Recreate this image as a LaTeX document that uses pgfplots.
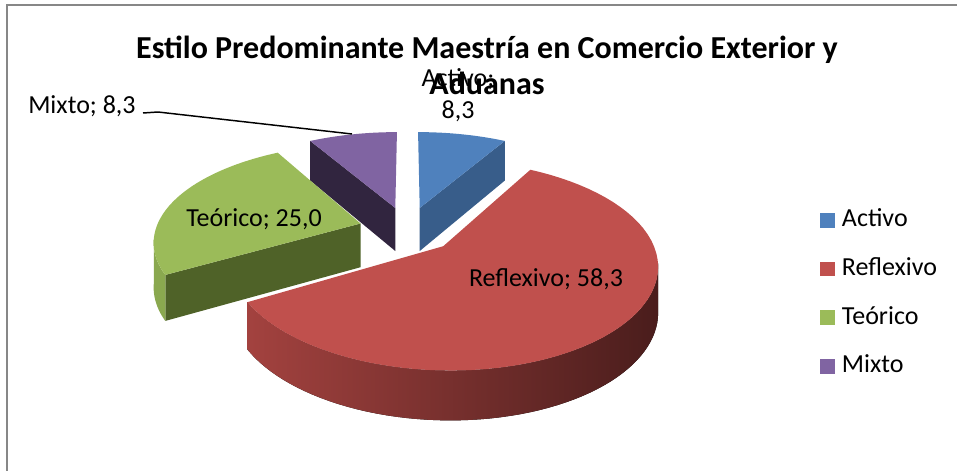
\documentclass[border=0pt]{standalone}
\usepackage{pgfplots}
\pgfplotsset{compat=1.18}
\usepackage{pgfplotstable}
\usepackage{fontspec}
\setmainfont{Carlito}

\definecolor{cA}{HTML}{4F81BD}
\definecolor{cAd}{HTML}{385D8A}
\definecolor{cB}{HTML}{C0504D}
\definecolor{cBl}{HTML}{A3423F}
\definecolor{cBr}{HTML}{4A1D1C}
\definecolor{cC}{HTML}{9BBB59}
\definecolor{cCd}{HTML}{4F6228}
\definecolor{cCs}{HTML}{8AA84F}
\definecolor{cD}{HTML}{8064A2}
\definecolor{cDd}{HTML}{31253F}
\definecolor{frame}{HTML}{878787}

\pgfplotstableread{
estilo valor
Activo 8.3
Reflexivo 58.3
Teorico 25.0
Mixto 8.3
}\datos

\pgfplotstablegetelem{0}{valor}\of\datos\edef\vA{\pgfplotsretval}
\pgfplotstablegetelem{1}{valor}\of\datos\edef\vB{\pgfplotsretval}
\pgfplotstablegetelem{2}{valor}\of\datos\edef\vC{\pgfplotsretval}
\pgfplotstablegetelem{3}{valor}\of\datos\edef\vD{\pgfplotsretval}
\pgfmathsetmacro\tot{\vA+\vB+\vC+\vD}
\pgfmathsetmacro\aB{\vA/\tot*360}
\pgfmathsetmacro\aC{\aB+\vB/\tot*360}
\pgfmathsetmacro\aD{\aC+\vC/\tot*360}
\def\ex{0.24}
\pgfmathsetmacro\ouA{\ex*sin(\aB/2)}\pgfmathsetmacro\ovA{\ex*cos(\aB/2)}
\pgfmathsetmacro\ouB{\ex*sin((\aB+\aC)/2)}\pgfmathsetmacro\ovB{\ex*cos((\aB+\aC)/2)}
\pgfmathsetmacro\ouC{\ex*sin((\aC+\aD)/2)}\pgfmathsetmacro\ovC{\ex*cos((\aC+\aD)/2)}
\pgfmathsetmacro\ouD{\ex*sin((\aD+360)/2)}\pgfmathsetmacro\ovD{\ex*cos((\aD+360)/2)}

\newcommand\topface[5]{%
 \fill[#1] ({PX(#2,#3)},{PY(#2,#3)}) -- plot[variable=\t,domain=#4:#5,samples=60]
   ({PX(#2+sin(\t),#3+cos(\t))},{PY(#2+sin(\t),#3+cos(\t))}) -- cycle;}
\newcommand\cutface[4]{%
 \fill[#1] ({PX(#2,#3)},{PY(#2,#3)})
   -- ({PX(#2+sin(#4),#3+cos(#4))},{PY(#2+sin(#4),#3+cos(#4))})
   -- ({PX(#2+sin(#4),#3+cos(#4))},{PB(#2+sin(#4),#3+cos(#4))})
   -- ({PX(#2,#3)},{PB(#2,#3)}) -- cycle;}
\newcommand\rimside[5]{%
 \fill[#1] plot[variable=\t,domain=#4:#5,samples=60]
   ({PX(#2+sin(\t),#3+cos(\t))},{PY(#2+sin(\t),#3+cos(\t))})
   -- plot[variable=\t,domain=#5:#4,samples=60]
   ({PX(#2+sin(\t),#3+cos(\t))},{PB(#2+sin(\t),#3+cos(\t))}) -- cycle;}

\begin{document}
\begin{tikzpicture}[declare function={
  PX(\u,\v)=407.5+204.8*(\u)/(1+0.164*(\v));
  PY(\u,\v)=229.4-96*(\v)/(1+0.175*(\v));
  PB(\u,\v)=229.4-96*(\v)/(1+0.175*(\v))+44/(1+0.1*(\v));
}]
\begin{axis}[
  scale only axis, width=717.75pt, height=353.25pt,
  xmin=0, xmax=957, ymin=0, ymax=471, y dir=reverse,
  hide axis, clip=false,
  legend image code/.code={\fill[#1] (0pt,-5.6pt) rectangle (11.25pt,5.6pt); \path (16.5pt,0pt);},
  legend cell align=left,
  legend style={at={(axis description cs:0.8568,0.5577)}, anchor=north west,
    draw=none, fill=none, inner sep=0pt, outer sep=0pt,
    font=\fontsize{19.5}{23}\selectfont, row sep=18.5pt,
    nodes={inner sep=0pt, text height=14pt, text depth=4pt}},
]
\coordinate (tl) at (axis cs:0,0);
\coordinate (br) at (axis cs:957,471);
\addlegendimage{fill=cA, draw=none}\addlegendentry{Activo}
\addlegendimage{fill=cB, draw=none}\addlegendentry{Reflexivo}
\addlegendimage{fill=cC, draw=none}\addlegendentry{Teórico}
\addlegendimage{fill=cD, draw=none}\addlegendentry{Mixto}

\draw[frame, line width=1.1pt] (axis cs:7,471) -- (axis cs:7,5) -- (axis cs:957,5);

% Mixto
\cutface{cDd}{\ouD}{\ovD}{\aD}
\topface{cD}{\ouD}{\ovD}{\aD}{360}
% Activo
\cutface{cAd}{\ouA}{\ovA}{\aB}
\topface{cA}{\ouA}{\ovA}{0}{\aB}
% Teorico
\cutface{cCd}{\ouC}{\ovC}{\aC}
\rimside{cCs}{\ouC}{\ovC}{\aC}{260.6}
\topface{cC}{\ouC}{\ovC}{\aC}{\aD}
% Reflexivo
\rimside{left color=cBl, right color=cBr}{\ouB}{\ovB}{99.4}{\aC}
\topface{cB}{\ouB}{\ovB}{\aB}{\aC}

% title
\node[anchor=base, inner sep=0pt, font=\fontsize{24}{28}\selectfont\bfseries] at (axis cs:487,58) {Estilo Predominante Maestría en Comercio Exterior y};
\node[anchor=base, inner sep=0pt, font=\fontsize{24}{28}\selectfont\bfseries] at (axis cs:487,94) {Aduanas};

% data labels
\tikzset{lab/.style={inner sep=0pt, font=\fontsize{19.5}{23}\selectfont}}
\node[lab, anchor=base] at (axis cs:458,86) {Activo;};
\node[lab, anchor=base] at (axis cs:458,118) {8,3};
\node[lab, anchor=base west] at (axis cs:28,113) {Mixto; 8,3};
\draw[line width=1.1pt] (axis cs:143,113) -- (axis cs:158,112) -- (axis cs:352,134);
\node[lab, anchor=base] at (axis cs:254,226) {Teórico; 25,0};
\node[lab, anchor=base] at (axis cs:546,286) {Reflexivo; 58,3};
\end{axis}
\pgfresetboundingbox
\path (tl) rectangle (br);
\end{tikzpicture}
\end{document}
